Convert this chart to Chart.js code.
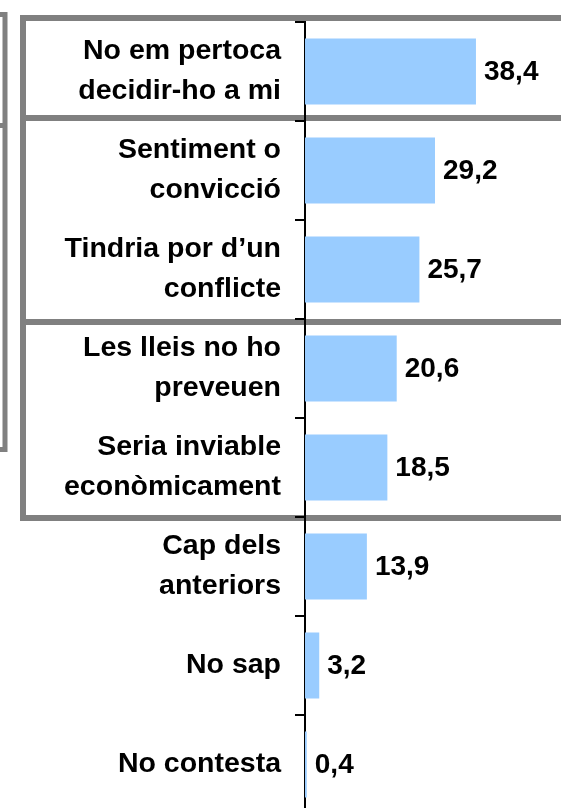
<!DOCTYPE html>
<html>
<head>
<meta charset="utf-8">
<script src="https://cdn.jsdelivr.net/npm/chart.js@4/dist/chart.umd.min.js"></script>
<style>
html, body { margin: 0; padding: 0; background: #fff; overflow: hidden; }
canvas { display: block; }
</style>
</head>
<body>
<canvas id="grafic" width="561" height="830"></canvas>
<script>
// Dades del gràfic
const categories = [
    ['No em pertoca', 'decidir-ho a mi'],
    ['Sentiment o', 'convicció'],
    ['Tindria por d’un', 'conflicte'],
    ['Les lleis no ho', 'preveuen'],
    ['Seria inviable', 'econòmicament'],
    ['Cap dels', 'anteriors'],
    'No sap',
    'No contesta'
];
const valors = [38.4, 29.2, 25.7, 20.6, 18.5, 13.9, 3.2, 0.4];
const etiquetesValor = ['38,4', '29,2', '25,7', '20,6', '18,5', '13,9', '3,2', '0,4'];

const FONT = "'Liberation Sans', Arial, sans-serif";

// Marcs grisos que agrupen les respostes
const marcs = {
    id: 'marcs',
    beforeDraw(chart) {
        const ctx = chart.ctx;
        ctx.save();
        ctx.strokeStyle = '#808080';
        ctx.lineCap = 'butt';

        ctx.lineWidth = 6;
        ctx.beginPath();
        [18, 118, 322, 518].forEach(y => {
            ctx.moveTo(20, y);
            ctx.lineTo(chart.width + 10, y);
        });
        ctx.moveTo(23, 15);
        ctx.lineTo(23, 521);
        ctx.stroke();

        ctx.lineWidth = 5;
        ctx.beginPath();
        ctx.moveTo(5, 12);
        ctx.lineTo(5, 452);
        [14.5, 125.5, 449.5].forEach(y => {
            ctx.moveTo(-5, y);
            ctx.lineTo(7.5, y);
        });
        ctx.stroke();
        ctx.restore();
    }
};

// Valors al final de cada barra
const valorsBarres = {
    id: 'valorsBarres',
    afterDatasetsDraw(chart) {
        const ctx = chart.ctx;
        ctx.save();
        ctx.font = 'bold 28px ' + FONT;
        ctx.fillStyle = '#000';
        ctx.textAlign = 'left';
        ctx.textBaseline = 'middle';
        chart.getDatasetMeta(0).data.forEach((barra, i) => {
            ctx.fillText(etiquetesValor[i], barra.x + 8, barra.y + 1);
        });
        ctx.restore();
    }
};

new Chart(document.getElementById('grafic'), {
    type: 'bar',
    data: {
        labels: categories,
        datasets: [{
            data: valors,
            backgroundColor: '#99CCFF',
            borderWidth: 0,
            categoryPercentage: 1,
            barPercentage: 0.667
        }]
    },
    options: {
        indexAxis: 'y',
        responsive: false,
        animation: false,
        layout: { padding: { top: 22, bottom: 16, left: 0, right: 0 } },
        plugins: {
            legend: { display: false },
            tooltip: { enabled: false }
        },
        scales: {
            x: {
                display: false,
                min: 0,
                max: 57.5
            },
            y: {
                position: 'left',
                afterFit(scale) {
                    scale.width = 305;
                    scale.paddingTop = 0;
                    scale.paddingBottom = 0;
                },
                border: { display: true, color: '#000', width: 2 },
                grid: {
                    drawOnChartArea: false,
                    drawTicks: true,
                    tickLength: 10,
                    tickColor: '#000',
                    lineWidth: 2
                },
                ticks: {
                    color: '#000',
                    padding: 14,
                    font: { family: FONT, size: 28.5, weight: 'bold', lineHeight: 40 / 28.5 }
                }
            }
        }
    },
    plugins: [marcs, valorsBarres]
});
</script>
</body>
</html>
